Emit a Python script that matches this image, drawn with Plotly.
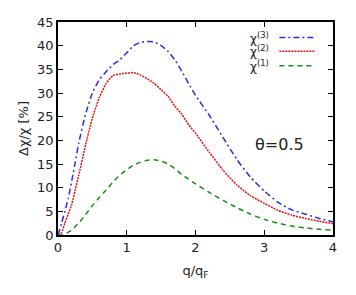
import plotly.graph_objects as go

q = [0, 0.05, 0.1, 0.15, 0.2, 0.25, 0.3, 0.4, 0.5, 0.6, 0.7, 0.8, 0.9, 1.0,
     1.1, 1.2, 1.3, 1.4, 1.5, 1.6, 1.7, 1.8, 1.9, 2.0, 2.2, 2.4, 2.6, 2.8,
     3.0, 3.2, 3.4, 3.6, 3.8, 4.0]
chi3 = [0, 2.4, 5, 7.8, 11.5, 15.3, 19.3, 25.5, 30, 32.8, 34.5, 36, 37, 38.5,
        40, 40.7, 40.9, 40.8, 40, 38.8, 37, 34.6, 32, 29.5, 25.3, 20.6, 16, 12.2,
        9.3, 6.9, 5.3, 4.4, 3.5, 2.8]
chi2 = [0, 0.5, 2.5, 4.5, 6.5, 9.5, 12.5, 19, 24.7, 29, 32, 33.7, 34, 34.2,
        34.3, 33.8, 33, 32, 30.7, 29.3, 27.2, 25.5, 23.3, 21.5, 17.5, 13.7, 10.6, 8.3,
        6.7, 5.2, 4.2, 3.5, 2.9, 2.4]
chi1 = [0, 0, 0.2, 0.6, 1.0, 1.8, 2.5, 4.3, 6.2, 7.9, 9.5, 11.2, 12.7, 13.8,
        14.8, 15.4, 15.8, 15.9, 15.6, 15, 14, 12.8, 11.8, 10.8, 9, 7.3, 5.8, 4.4,
        3.3, 2.5, 1.9, 1.5, 1.2, 1.0]
x_ticks = [0, 1, 2, 3, 4]
y_ticks = [0, 5, 10, 15, 20, 25, 30, 35, 40, 45]
names = ["χ<sup>(3)</sup>", "χ<sup>(2)</sup>", "χ<sup>(1)</sup>"]
colors = ["#2a2ae8", "#e01010", "#109010"]
dashes = ["6px,3px,2px,3px", "2px,1px", "5px,4px"]
series = [chi3, chi2, chi1]

FONT = "DejaVu Sans"
fig = go.Figure()
for s, n, c, d in zip(series, names, colors, dashes):
    fig.add_trace(go.Scatter(x=q, y=s, mode="lines", name=n, showlegend=False,
                             line=dict(color=c, width=1.5, dash=d, shape="spline", smoothing=0.5)))

# manual legend (text left, sample right)
leg_y = [0.927, 0.863, 0.795]
for n, c, d, yy in zip(names, colors, dashes, leg_y):
    fig.add_annotation(x=0.775, y=yy, xref="paper", yref="paper", text=n, showarrow=False,
                       xanchor="right", yanchor="middle", font=dict(family=FONT, size=12, color="#222"))
    fig.add_shape(type="line", xref="paper", yref="paper", x0=0.805, x1=0.936, y0=yy, y1=yy,
                  line=dict(color=c, width=1.5, dash=d))

fig.add_annotation(x=0.9, y=0.426, xref="paper", yref="paper", text="θ=0.5", showarrow=False,
                   xanchor="right", yanchor="middle", font=dict(family=FONT, size=16, color="#222"))

axis_common = dict(showline=True, linecolor="black", linewidth=1.5, mirror="ticks",
                   ticks="inside", ticklen=5, tickcolor="black", showgrid=False, zeroline=False,
                   tickfont=dict(family=FONT, size=13, color="#222"))
fig.update_xaxes(range=[0, 4], tickvals=x_ticks, title=dict(text="q/q<sub>F</sub>", standoff=12,
                 font=dict(family=FONT, size=13, color="#222")), **axis_common)
fig.update_yaxes(range=[0, 45], tickvals=y_ticks, title=dict(text="Δχ/χ [%]", standoff=6,
                 font=dict(family=FONT, size=13, color="#222")), **axis_common)
# page body adds an 8px offset; margins compensate
fig.update_layout(width=356, height=295, margin=dict(l=50, r=31, t=7, b=68),
                  plot_bgcolor="white", paper_bgcolor="white", font=dict(family=FONT))
fig.write_html("out.html")
